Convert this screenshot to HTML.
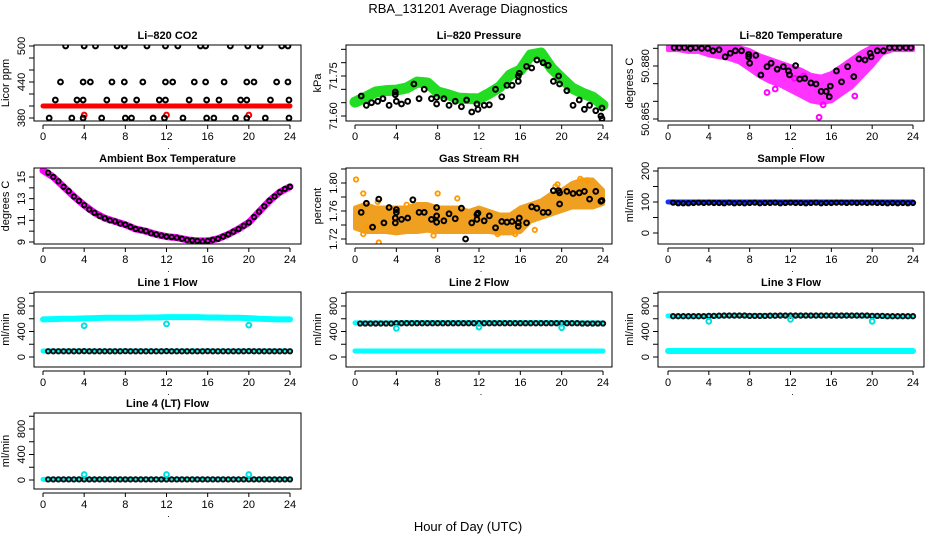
<!DOCTYPE html>
<html><head><meta charset="utf-8"><style>
html,body{margin:0;padding:0;background:#fff;}
svg{display:block;font-family:"Liberation Sans",sans-serif;}
</style></head><body>
<svg id="chart" width="936" height="540" viewBox="0 0 936 540">
<text x="468" y="13" text-anchor="middle" font-size="13">RBA_131201  Average Diagnostics</text>
<text x="468" y="531" text-anchor="middle" font-size="13">Hour of Day (UTC)</text>
</svg>
<script>
// ---------- data ----------
const hourTicks = [0,4,8,12,16,20,24];
const hourly = [0,1,2,3,4,5,6,7,8,9,10,11,12,13,14,15,16,17,18,19,20,21,22,23,24];
const halfHours = [0.5,1,1.5,2,2.5,3,3.5,4,4.5,5,5.5,6,6.5,7,7.5,8,8.5,9,9.5,10,10.5,11,11.5,12,12.5,13,13.5,14,14.5,15,15.5,16,16.5,17,17.5,18,18.5,19,19.5,20,20.5,21,21.5,22,22.5,23,23.5,24];
const dipHours = [4,12,20];

// CO2
const co2RedVals = [400,400,400,400,400,400,400,400,400,400,400,400,400,400,400,400,400,400,400,400,400,400,400,400,400];
const co2RedDips = [385,385,385];
const co2H500 = [2.2,4.0,5.1,7.2,7.9,10.1,11.9,13.1,15.3,15.8,18.2,19.9,21.1,23.2,23.8];
const co2H440 = [1.7,3.9,4.6,6.7,7.9,9.7,11.9,12.6,14.7,15.8,17.6,19.8,20.5,22.7,23.8];
const co2H410 = [1.2,3.3,3.9,6.2,7.9,9.1,11.3,11.9,14.2,15.9,17.1,19.2,19.8,22.1,23.9];
const co2H380 = [0.6,2.8,3.9,5.7,8.0,8.6,10.7,11.8,13.6,15.9,16.6,18.7,19.8,21.6,23.9];

// Ambient box temperature
const ambBand = [15.6,15.0,14.1,13.2,12.4,11.7,11.2,10.9,10.6,10.2,10.0,9.7,9.5,9.4,9.2,9.1,9.1,9.3,9.7,10.2,10.8,11.8,12.8,13.6,14.1];
const ambPts = [15.4,15.0,14.6,14.1,13.7,13.2,12.8,12.4,12.0,11.7,11.4,11.2,11.0,10.9,10.7,10.6,10.4,10.2,10.1,10.0,9.8,9.7,9.6,9.5,9.45,9.4,9.3,9.2,9.15,9.1,9.05,9.1,9.2,9.3,9.5,9.7,9.95,10.2,10.5,10.8,11.3,11.8,12.3,12.8,13.2,13.6,13.9,14.1];

// Pressure
const presBand = [71.652,71.670,71.690,71.695,71.697,71.705,71.727,71.724,71.690,71.680,71.667,71.665,71.664,71.685,71.709,71.754,71.772,71.829,71.836,71.780,71.742,71.705,71.686,71.671,71.641];
const presHours = [0.6,1.1,1.6,2.2,2.7,3.3,3.9,3.9,4.0,4.5,5.1,5.7,6.2,6.7,7.4,7.9,7.9,8.6,9.1,9.7,10.3,10.8,11.3,11.8,11.9,12.5,13.0,13.6,14.2,14.7,15.2,15.8,15.8,15.9,16.6,17.1,17.6,18.2,18.7,19.2,19.7,19.8,20.5,21.1,21.7,22.2,22.7,23.3,23.8,23.9,23.9];
const presVals = [71.675,71.640,71.650,71.655,71.665,71.640,71.690,71.680,71.655,71.645,71.655,71.720,71.665,71.700,71.665,71.645,71.670,71.665,71.640,71.655,71.635,71.660,71.615,71.645,71.625,71.640,71.642,71.700,71.672,71.715,71.715,71.730,71.750,71.760,71.786,71.780,71.810,71.800,71.790,71.730,71.750,71.720,71.695,71.640,71.660,71.625,71.640,71.620,71.600,71.630,71.590];

// Gas stream RH
const rhLow = [1.735,1.73,1.73,1.73,1.728,1.73,1.73,1.732,1.73,1.73,1.73,1.73,1.73,1.73,1.728,1.728,1.73,1.745,1.75,1.755,1.76,1.765,1.765,1.765,1.77];
const rhHigh = [1.765,1.77,1.765,1.765,1.765,1.765,1.77,1.77,1.765,1.765,1.765,1.76,1.765,1.76,1.755,1.755,1.765,1.77,1.775,1.785,1.79,1.8,1.805,1.805,1.79];
const rhOutHours = [0.1,0.8,0.8,2.3,2.2,7.6,8.0,9.9,17.4,19.6,19.4,21.8,22.5,23.3,1.2,5.0,13.8,15.5];
const rhOutVals = [1.805,1.785,1.727,1.715,1.773,1.725,1.785,1.778,1.733,1.798,1.795,1.806,1.804,1.790,1.737,1.769,1.727,1.727];
const rhHours = [0.6,1.1,1.7,2.3,2.8,3.3,3.9,3.9,4.0,4.0,4.5,5.1,5.6,6.2,6.7,7.4,7.9,7.9,7.9,8.6,9.1,9.7,10.3,10.7,11.3,11.8,11.8,11.9,12.5,13.0,13.6,14.2,14.7,15.2,15.8,15.8,15.9,16.6,17.1,17.6,18.2,18.7,19.2,19.7,19.8,19.8,20.5,21.1,21.7,22.2,22.7,23.3,23.8,23.9];
const rhVals = [1.758,1.771,1.737,1.777,1.743,1.765,1.743,1.750,1.758,1.762,1.748,1.750,1.776,1.758,1.758,1.748,1.744,1.753,1.765,1.746,1.756,1.749,1.764,1.720,1.743,1.748,1.755,1.757,1.746,1.753,1.736,1.745,1.744,1.745,1.738,1.743,1.750,1.743,1.766,1.764,1.758,1.758,1.789,1.789,1.786,1.770,1.788,1.785,1.786,1.788,1.777,1.788,1.774,1.775];

// Li-820 temperature
const ltHigh = [50.8855,50.8855,50.8855,50.8855,50.8855,50.8855,50.8855,50.8853,50.8845,50.883,50.882,50.881,50.880,50.879,50.8775,50.877,50.878,50.880,50.882,50.884,50.8855,50.8855,50.8855,50.8855,50.8855];
const ltLow = [50.8845,50.8845,50.884,50.884,50.883,50.8825,50.882,50.881,50.879,50.877,50.8755,50.8745,50.873,50.8715,50.870,50.8695,50.870,50.872,50.874,50.877,50.880,50.8835,50.8845,50.8845,50.8845];
const ltOutHours = [14.8,10.5,12.4,18.3,9.7,13.3,15.2];
const ltOutVals = [50.8655,50.8735,50.8765,50.8715,50.8725,50.8772,50.8690];
const ltHours = [0.6,1.1,1.6,2.2,2.7,3.3,3.9,4.4,5.0,5.6,6.1,6.6,7.2,7.9,7.9,8.0,8.6,9.1,9.7,10.1,10.7,11.3,11.8,11.9,12.5,12.9,13.4,14.0,14.5,15.0,15.5,15.8,15.9,16.5,17.0,17.6,18.2,18.7,19.3,19.8,19.9,20.5,21.1,21.7,22.2,22.7,23.3,23.8];
const ltVals = [50.8852,50.8852,50.8852,50.8850,50.8852,50.8850,50.8850,50.8843,50.8846,50.8826,50.8836,50.8843,50.8843,50.8833,50.8826,50.8808,50.8830,50.87745,50.8798,50.8808,50.8791,50.8798,50.8786,50.8775,50.8801,50.8763,50.8765,50.8752,50.8749,50.8728,50.8728,50.8713,50.8743,50.8786,50.8755,50.8798,50.8770,50.8820,50.8817,50.8836,50.8826,50.8843,50.8843,50.8852,50.8852,50.8852,50.8852,50.8852];

// Sample flow
const sfBand = [100,100,100,100,100,100,100,100,100,100,100,100,100,100,100,100,100,100,100,100,100,100,100,100,100];
const sfPts = [98,96,96,96,97,98,97,98,97,97,96,98,96,97,96,97,98,96,97,97,98,96,97,98,97,97,96,97,98,96,97,97,98,98,97,98,97,98,97,98,97,97,96,97,96,97,96,97];

// Line flows
const l1High = [590,595,600,600,605,610,615,615,615,615,620,620,625,625,625,625,620,620,615,615,610,600,595,590,590];
const l1Low = [95,95,95,95,95,95,95,95,95,95,95,95,95,95,95,95,95,95,95,95,95,95,95,95,95];
const l1Pts = [90,90,90,90,90,90,90,92,90,90,90,90,90,90,90,92,90,90,90,90,90,90,90,92,90,90,90,90,90,90,90,92,90,90,90,90,90,90,90,92,90,90,90,90,90,90,90,90];
const l1Dips = [490,520,500];

const l2High = [535,535,535,535,535,540,540,540,540,540,540,540,540,540,540,540,540,540,540,540,540,535,535,535,535];
const l2Low = [95,95,95,95,95,95,95,95,95,95,95,95,95,95,95,95,95,95,95,95,95,95,95,95,95];
const l2Pts = [525,525,525,525,525,525,525,530,530,530,530,530,530,530,530,530,530,530,530,530,530,530,530,530,530,530,530,530,530,530,530,530,530,530,530,530,530,530,530,530,530,530,530,525,525,525,525,525];
const l2Dips = [450,470,460];

const l3High = [645,640,640,640,640,645,650,650,650,650,650,650,650,650,650,650,650,650,650,645,645,640,640,640,640];
const l3Low = [95,95,95,95,95,95,95,95,95,95,95,95,95,95,95,95,95,95,95,95,95,95,95,95,95];
const l3Pts = [640,640,640,640,640,640,640,645,645,648,650,650,650,650,650,645,645,645,645,648,648,650,650,650,650,650,650,650,650,650,650,650,650,650,650,650,650,650,650,645,645,645,640,640,640,640,640,640];
const l3Dips = [560,590,560];

const l4Band = [10,10,10,10,10,10,10,10,10,10,10,10,10,10,10,10,10,10,10,10,10,10,10,10,10];
const l4Pts = [10,10,10,10,10,10,10,10,10,10,10,10,10,10,10,10,10,10,10,10,10,10,10,10,10,10,10,10,10,10,10,10,10,10,10,10,10,10,10,10,10,10,10,10,10,10,10,10];
const l4Dips = [85,85,85];

// ---------- drawing ----------
const NS = 'http://www.w3.org/2000/svg';
const svg = document.getElementById('chart');
function mk(tag, attrs, parent){
  const e = document.createElementNS(NS, tag);
  for (const k in attrs) e.setAttribute(k, attrs[k]);
  (parent || svg).appendChild(e);
  return e;
}
const COLS = [{bx0:34,bx1:301,h0:43,h24:290,ylab:9},{bx0:346,bx1:612,h0:355,h24:603,ylab:321},{bx0:658,bx1:924,h0:668,h24:913,ylab:633}];
const ROWS = [{top:45,bot:121},{top:168,bot:244},{top:292,bot:367},{top:413,bot:489}];

function makePanel(name, title, col, row, v1, p1, v2, p2, ticks, labels, ytitle, fmt){
  const c = COLS[col], r = ROWS[row];
  const g = mk('g', {});
  
  
  const P = {
    g: g,
    x: h => c.h0 + (c.h24 - c.h0) * h / 24,
    y: v => p1 + (v - v1) * (p2 - p1) / (v2 - v1)
  };
  const t = mk('text', {x:(c.bx0+c.bx1)/2, y:r.top-6, 'text-anchor':'middle', 'font-size':11, 'font-weight':'bold'}, g);
  t.textContent = title;
  
  
  const cid = 'clip-' + name;
  const cp = mk('clipPath', {id:cid}, g);
  mk('rect', {x:c.bx0, y:r.top, width:c.bx1-c.bx0, height:r.bot-r.top}, cp);
  P.d = mk('g', {'clip-path':'url(#'+cid+')'}, g);
  const box = mk('rect', {x:c.bx0, y:r.top, width:c.bx1-c.bx0, height:r.bot-r.top, fill:'none', stroke:'#000', 'stroke-width':1}, g);
  
  
  const ax = mk('g', {}, g);
  
  
  const ay0 = r.bot + 4;
  mk('line', {x1:P.x(0), x2:P.x(24), y1:ay0, y2:ay0, stroke:'#000'}, ax);
  hourTicks.forEach(h => {
    mk('line', {x1:P.x(h), x2:P.x(h), y1:ay0, y2:ay0+4, stroke:'#000'}, ax);
    const tl = mk('text', {x:P.x(h), y:ay0+15, 'text-anchor':'middle', 'font-size':11}, ax);
    tl.textContent = h;
  });
  const dot = mk('text', {x:P.x(12)+2, y:ay0+24, 'text-anchor':'middle', 'font-size':9}, ax);
  dot.textContent = '.';
  const yx = mk('g', {}, g);
  
  
  ticks.forEach(v => {
    const yy = P.y(v);
    mk('line', {x1:c.bx0-5, x2:c.bx0, y1:yy, y2:yy, stroke:'#000'}, yx);
  });
  labels.forEach(v => {
    const yy = P.y(v);
    const tl = mk('text', {x:0, y:0, 'text-anchor':'middle', 'font-size':11, transform:'translate('+(c.bx0-9)+','+yy+') rotate(-90)'}, yx);
    tl.textContent = fmt ? fmt(v) : v;
  });
  const yt = mk('text', {x:0, y:0, 'text-anchor':'middle', 'font-size':11, transform:'translate('+c.ylab+','+((r.top+r.bot)/2)+') rotate(-90)'}, yx);
  yt.textContent = ytitle;
  
  
  return P;
}
function band(P, hs, vs, color, w, name){
  const pl = mk('polyline', {points: hs.map((h,i)=>P.x(h)+','+P.y(vs[i])).join(' '), fill:'none', stroke:color, 'stroke-width':w, 'stroke-linejoin':'round', 'stroke-linecap':'round'}, P.d);
  
  
}
function area(P, hs, lo, hi, color, name){
  const pts = hs.map((h,i)=>P.x(h)+','+P.y(hi[i])).concat(hs.slice().reverse().map((h,j)=>{const i=hs.length-1-j;return P.x(h)+','+P.y(lo[i]);}));
  const pg = mk('polygon', {points: pts.join(' '), fill:color, stroke:color, 'stroke-width':4, 'stroke-linejoin':'round'}, P.d);
  
  
}
function pts(P, hs, vs, color, name, r, sw){
  const g = mk('g', {}, P.d);
  
  
  hs.forEach((h,i)=>{
    const c = mk('circle', {cx:P.x(h), cy:P.y(vs[i]), r:r||2.4, fill:'none', stroke:color, 'stroke-width':sw||2}, g);
    
    
  });
}
const flowTicks = [0,200,400,600,800,1000];
const flowLabels = [0,400,800];

let P = makePanel('co2-panel','Li\u2013820 CO2',0,0,380,118,500,46,[380,400,420,440,460,480,500],[380,440,500],'Licor ppm');
band(P, hourly, co2RedVals, '#ff0000', 5, 'co2-red-band');
pts(P, dipHours, co2RedDips, '#ff0000', 'co2-red-points');
pts(P, co2H500, co2H500.map(()=>500), '#000', 'co2-points-500');
pts(P, co2H440, co2H440.map(()=>440), '#000', 'co2-points-440');
pts(P, co2H410, co2H410.map(()=>410), '#000', 'co2-points-410');
pts(P, co2H380, co2H380.map(()=>380), '#000', 'co2-points-380');

P = makePanel('pressure-panel','Li\u2013820 Pressure',1,0,71.60,116,71.75,76,[71.60,71.65,71.70,71.75,71.80,71.85],[71.60,71.75],'kPa',v=>v.toFixed(2));
band(P, hourly, presBand, '#22dd22', 11, 'pressure-green-band');
pts(P, presHours, presVals, '#000', 'pressure-points');

P = makePanel('licor-temp-panel','Li\u2013820 Temperature',2,0,50.880,66,50.865,119,[50.865,50.870,50.875,50.880,50.885],[50.865,50.880],'degrees C',v=>v.toFixed(3));
area(P, hourly, ltLow, ltHigh, '#ff33ff', 'licor-temp-band');
pts(P, ltOutHours, ltOutVals, '#ff00ff', 'licor-temp-outliers');
pts(P, ltHours, ltVals, '#000', 'licor-temp-points');

P = makePanel('ambient-temp-panel','Ambient Box Temperature',0,1,9,242,15,177,[9,10,11,12,13,14,15],[9,11,13,15],'degrees C');
band(P, hourly, ambBand, '#ff00ff', 7, 'ambient-magenta-band');
pts(P, halfHours, ambPts, '#000', 'ambient-points', 2.2, 1.9);

P = makePanel('rh-panel','Gas Stream RH',1,1,1.72,239,1.80,183,[1.72,1.74,1.76,1.78,1.80,1.82],[1.72,1.76,1.80],'percent',v=>v.toFixed(2));
area(P, hourly, rhLow, rhHigh, '#f0a020', 'rh-orange-band');
pts(P, rhOutHours, rhOutVals, '#ff9900', 'rh-outliers', 2.2, 1.8);
pts(P, rhHours, rhVals, '#000', 'rh-points');

P = makePanel('sample-flow-panel','Sample Flow',2,1,0,233,200,171,[0,50,100,150,200],[0,100,200],'ml/min');
band(P, hourly, sfBand, '#1030ff', 5, 'sample-flow-band');
pts(P, halfHours, sfPts, '#000', 'sample-flow-points', 2.2, 1.9);

P = makePanel('line1-flow-panel','Line 1 Flow',0,2,0,357,800,306,flowTicks,flowLabels,'ml/min');
band(P, hourly, l1High, '#00ffff', 6, 'line1-high-band');
band(P, hourly, l1Low, '#00ffff', 5, 'line1-low-band');
pts(P, halfHours, l1Pts, '#111', 'line1-points', 2.2, 1.9);
pts(P, dipHours, l1Dips, '#00e0e0', 'line1-dips');

P = makePanel('line2-flow-panel','Line 2 Flow',1,2,0,357,800,306,flowTicks,flowLabels,'ml/min');
band(P, hourly, l2High, '#00ffff', 5, 'line2-high-band');
band(P, hourly, l2Low, '#00ffff', 5, 'line2-low-band');
pts(P, halfHours, l2Pts, '#111', 'line2-points', 2.2, 1.9);
pts(P, dipHours, l2Dips, '#00e0e0', 'line2-dips');

P = makePanel('line3-flow-panel','Line 3 Flow',2,2,0,357,800,306,flowTicks,flowLabels,'ml/min');
band(P, hourly, l3High, '#00ffff', 5, 'line3-high-band');
band(P, hourly, l3Low, '#00ffff', 6, 'line3-low-band');
pts(P, halfHours, l3Pts, '#111', 'line3-points', 2.2, 1.9);
pts(P, dipHours, l3Dips, '#00e0e0', 'line3-dips');

P = makePanel('line4-flow-panel','Line 4 (LT) Flow',0,3,0,480,800,429,flowTicks,flowLabels,'ml/min');
band(P, hourly, l4Band, '#00ffff', 5, 'line4-band');
pts(P, halfHours, l4Pts, '#111', 'line4-points', 2.2, 1.9);
pts(P, dipHours, l4Dips, '#00e0e0', 'line4-dips');
</script>
</body></html>
